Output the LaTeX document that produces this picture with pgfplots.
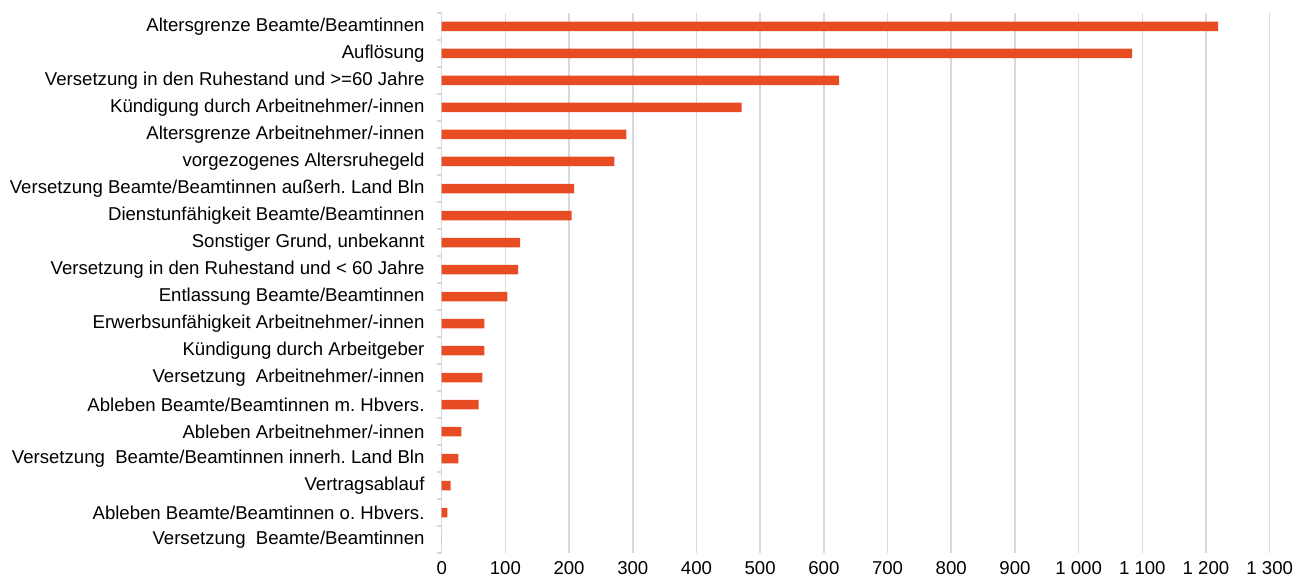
\documentclass[border=0pt]{standalone}
\usepackage{pgfplots}
\pgfplotsset{compat=1.18}
\usepackage{fontspec}
\setmainfont{Liberation Sans}
\frenchspacing
\definecolor{barc}{RGB}{232,76,34}
\definecolor{gridc}{RGB}{217,217,217}
\begin{document}
\begin{tikzpicture}
\begin{axis}[
  scale only axis,
  width=828pt, height=540pt,
  xbar, bar width=9.5pt,
  xmin=0, xmax=1300,
  ymin=-0.5, ymax=19.5,
  y dir=reverse,
  xtick={0,100,...,1300},
  ytick={0,...,19},
  yticklabels={Altersgrenze Beamte/Beamtinnen,Auflösung,Versetzung in den Ruhestand und >=60 Jahre,Kündigung durch Arbeitnehmer/-innen,Altersgrenze Arbeitnehmer/-innen,vorgezogenes Altersruhegeld,Versetzung Beamte/Beamtinnen außerh. Land Bln,Dienstunfähigkeit Beamte/Beamtinnen,{Sonstiger Grund, unbekannt},Versetzung in den Ruhestand und < 60 Jahre,Entlassung Beamte/Beamtinnen,Erwerbsunfähigkeit Arbeitnehmer/-innen,Kündigung durch Arbeitgeber,Versetzung\ \ Arbeitnehmer/-innen,Ableben Beamte/Beamtinnen m. Hbvers.,Ableben Arbeitnehmer/-innen,Versetzung\ \ Beamte/Beamtinnen innerh. Land Bln,Vertragsablauf,Ableben Beamte/Beamtinnen o. Hbvers.,Versetzung\ \ Beamte/Beamtinnen},
  minor ytick={-0.5,0.5,...,19.5},
  major tick length=0pt,
  minor tick length=5pt,
  tick align=outside,
  minor tick style={gridc, line width=1.5pt},
  axis lines*=left,
  x axis line style={draw=none},
  y axis line style={gridc, line width=1.5pt},
  xmajorgrids,
  major grid style={gridc, line width=1.5pt},
  ticklabel style={font=\fontsize{18.6}{20}\selectfont\frenchspacing},
  y tick label style={inner sep=0pt, xshift=-17pt},
  x tick label style={inner sep=0pt, yshift=-8pt},
  /pgf/number format/assume math mode=true,
  /pgf/number format/1000 sep={\ },
]
\addplot[fill=barc, draw=none] coordinates {
(1219,0) (1084,1) (624,2) (471,3) (290,4) (271,5) (208,6) (204,7) (123,8) (120,9) (103,10) (67,11) (67,12) (64,13) (58,14) (31,15) (26,16) (14,17) (9,18) (0,19)
};
\end{axis}
\path (-441.7pt,-30pt) rectangle (857.3pt,553pt);
\end{tikzpicture}
\end{document}
